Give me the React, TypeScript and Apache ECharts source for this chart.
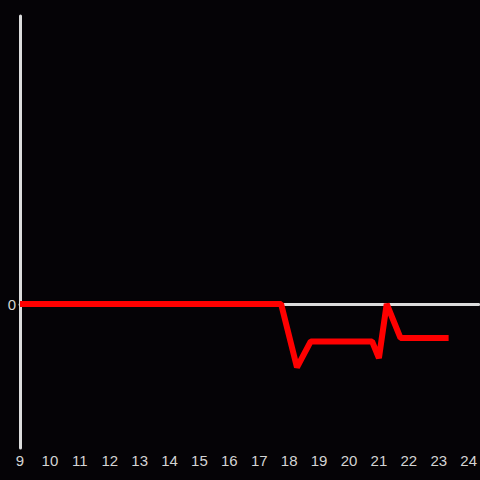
import React, { useEffect, useRef } from "react";
import * as echarts from "echarts";

const hours = [9, 17.73, 18.26, 18.72, 20.77, 21.0, 21.26, 21.72, 23.33];
const values = [0, 0, -0.44, -0.26, -0.26, -0.375, 0, -0.236, -0.236];
const xTicks = [9, 10, 11, 12, 13, 14, 15, 16, 17, 18, 19, 20, 21, 22, 23, 24];

export default function App() {
  const ref = useRef<HTMLDivElement>(null);
  useEffect(() => {
    if (!ref.current) return;
    const chart = echarts.init(ref.current, undefined, { renderer: "svg" });
    const axisColor = "#dcdcdc";
    const font = "'Liberation Sans', Arial, sans-serif";
    chart.setOption({
      animation: false,
      backgroundColor: "#050306",
      grid: { left: 20, right: 0, top: 16, bottom: 32, containLabel: false },
      xAxis: [
        {
          type: "value",
          min: xTicks[0],
          max: 24.333,
          interval: 1,
          axisLine: { show: false, onZero: false },
          axisTick: { show: false },
          splitLine: { show: false },
          axisLabel: {
            color: "#d4d4d4",
            fontSize: 15,
            fontFamily: font,
            margin: 5,
            formatter: (v: number) => (xTicks.includes(v) ? String(v) : ""),
            showMaxLabel: false,
          },
        },
        {
          type: "value",
          position: "bottom",
          min: xTicks[0],
          max: 24.333,
          axisLine: { show: true, onZero: true, lineStyle: { color: axisColor, width: 3 } },
          axisTick: { show: false },
          axisLabel: { show: false },
          splitLine: { show: false },
        },
      ],
      yAxis: {
        type: "value",
        min: -1,
        max: 2,
        interval: 1,
        axisLine: { show: true, onZero: false, lineStyle: { color: axisColor, width: 3 } },
        axisTick: { show: false },
        splitLine: { show: false },
        axisLabel: {
          color: "#d4d4d4",
          fontSize: 15,
          fontFamily: font,
          margin: 4,
          formatter: (v: number) => (v === 0 ? "0" : ""),
        },
      },
      series: [
        {
          type: "line",
          xAxisIndex: 0,
          data: hours.map((h, i) => [h, values[i]]),
          symbol: "none",
          lineStyle: { color: "#ff0000", width: 6 },
          z: 5,
        },
      ],
    });
    return () => chart.dispose();
  }, []);
  return (
    <div
      ref={ref}
      style={{ position: "fixed", left: 0, top: 0, width: 480, height: 480 }}
    />
  );
}
